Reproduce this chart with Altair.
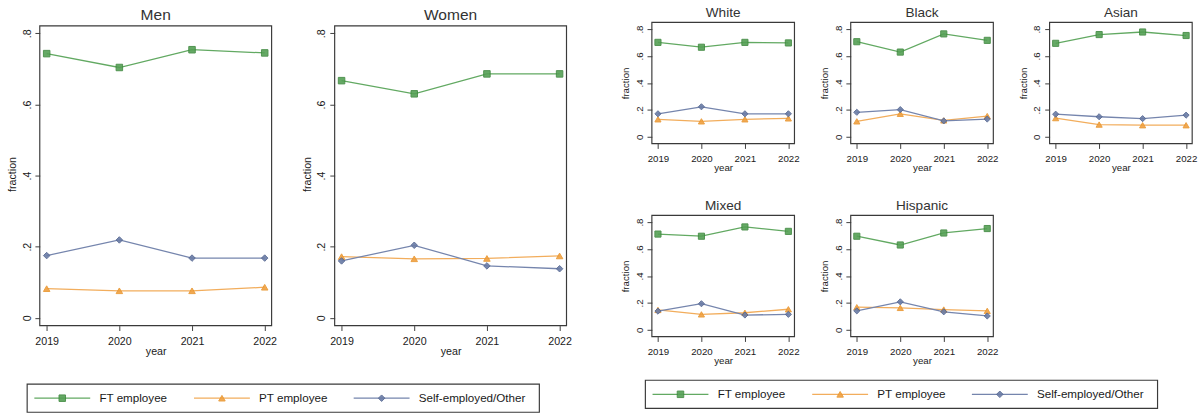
import altair as alt
import pandas as pd

# Employment status shares by year, by sex and by ethnic group
years = [2019, 2020, 2021, 2022]
statuses = ["FT employee", "PT employee", "Self-employed/Other"]

men_ft = [0.743, 0.704, 0.754, 0.745]
men_pt = [0.082, 0.076, 0.076, 0.086]
men_se = [0.175, 0.219, 0.168, 0.168]

women_ft = [0.667, 0.630, 0.686, 0.686]
women_pt = [0.172, 0.166, 0.167, 0.174]
women_se = [0.160, 0.204, 0.146, 0.138]

white_ft = [0.701, 0.665, 0.701, 0.697]
white_pt = [0.130, 0.115, 0.130, 0.137]
white_se = [0.171, 0.223, 0.171, 0.171]

black_ft = [0.706, 0.629, 0.764, 0.716]
black_pt = [0.115, 0.171, 0.122, 0.154]
black_se = [0.182, 0.202, 0.118, 0.132]

asian_ft = [0.694, 0.759, 0.778, 0.752]
asian_pt = [0.139, 0.091, 0.086, 0.086]
asian_se = [0.168, 0.149, 0.135, 0.161]

mixed_ft = [0.711, 0.695, 0.764, 0.731]
mixed_pt = [0.148, 0.115, 0.127, 0.153]
mixed_se = [0.139, 0.194, 0.110, 0.115]

hispanic_ft = [0.695, 0.630, 0.719, 0.752]
hispanic_pt = [0.168, 0.163, 0.151, 0.141]
hispanic_se = [0.141, 0.208, 0.134, 0.103]

groups = {
    "Men": (men_ft, men_pt, men_se),
    "Women": (women_ft, women_pt, women_se),
    "White": (white_ft, white_pt, white_se),
    "Black": (black_ft, black_pt, black_se),
    "Asian": (asian_ft, asian_pt, asian_se),
    "Mixed": (mixed_ft, mixed_pt, mixed_se),
    "Hispanic": (hispanic_ft, hispanic_pt, hispanic_se),
}

rows = []
for g, series in groups.items():
    for status, vals in zip(statuses, series):
        for yr, v in zip(years, vals):
            rows.append({"group": g, "status": status, "year": yr, "value": v})
df = pd.DataFrame(rows)

FONT = "Liberation Sans"
FRAME = "#3a3a3a"
line_colors = ["#62a962", "#f2ad5c", "#7585ad"]
fill_colors = ["#55a055", "#f0a040", "#6a7ca6"]
edge_colors = ["#3d873d", "#e8952c", "#54658f"]
shapes = ["square", "triangle-up", "diamond"]

color_line = alt.Color("status:N", scale=alt.Scale(domain=statuses, range=line_colors), legend=None)
color_fill = alt.Fill("status:N", scale=alt.Scale(domain=statuses, range=fill_colors), legend=None)
color_edge = alt.Stroke("status:N", scale=alt.Scale(domain=statuses, range=edge_colors), legend=None)
shape_enc = alt.Shape("status:N", scale=alt.Scale(domain=statuses, range=shapes), legend=None)

y_label_expr = "datum.value == 0 ? '0' : replace(format(datum.value, '.1f'), '0.', '.')"


def panel(name, w, h, xdom, ydom, title_size, title_offset, label_size, pt_size, headroom=0.0):
    # `headroom` leaves an empty strip of that many pixels above the framed plot
    base = alt.Chart(df).transform_filter(alt.datum.group == name)
    x = alt.X(
        "year:Q",
        scale=alt.Scale(domain=xdom, nice=False, zero=False),
        axis=alt.Axis(
            values=years, format="d", title="year", grid=False, domain=False,
            labelFontSize=label_size, titleFontSize=label_size, tickSize=5,
            labelPadding=5, titlePadding=0, labelFlush=False, labelOverlap=False,
        ),
    )
    y = alt.Y(
        "value:Q",
        scale=alt.Scale(domain=ydom, nice=False, zero=False),
        axis=alt.Axis(
            values=[0, 0.2, 0.4, 0.6, 0.8], labelExpr=y_label_expr, title="fraction",
            grid=False, domain=False, labelAngle=270, labelAlign="center",
            labelBaseline="bottom", labelFontSize=label_size, titleFontSize=label_size,
            tickSize=5, labelPadding=3, titlePadding=4, labelFlush=False,
            labelOverlap=False,
        ),
    )
    frame = alt.Chart(pd.DataFrame({"k": [0]})).mark_rect(
        fill="transparent", stroke=FRAME, strokeWidth=1.2
    ).encode(x=alt.value(0), x2=alt.value(w), y=alt.value(headroom), y2=alt.value(h))
    lines = base.mark_line(strokeWidth=1.3).encode(x=x, y=y, color=color_line)
    pts = base.mark_point(filled=True, size=pt_size, strokeWidth=1, opacity=0.9).encode(
        x=x, y=y, fill=color_fill, stroke=color_edge, shape=shape_enc
    )
    return alt.layer(frame, lines, pts).properties(
        width=w,
        height=h,
        view=alt.ViewBackground(stroke="transparent"),
        title=alt.TitleParams(
            name, fontSize=title_size, font=FONT, fontWeight="normal",
            anchor="middle", offset=title_offset, color="#333333",
        ),
    )


def legend_box(shift):
    # keys of the three series inside a framed box; `shift` moves the box
    # relative to the left edge of the plot above it
    items = pd.DataFrame({"status": statuses, "idx": list(range(len(statuses)))})
    xs = alt.Scale(domain=[0, 528], nice=False, zero=False)
    base = alt.Chart(items).transform_calculate(
        x0=f"datum.idx * 164.6 + 7.4 + ({shift})",
        x1=f"datum.idx * 164.6 + 65 + ({shift})",
        xm=f"datum.idx * 164.6 + 36.2 + ({shift})",
        xt=f"datum.idx * 164.6 + 74.5 + ({shift})",
    )
    frame = alt.Chart(pd.DataFrame({"k": [0]})).mark_rect(
        fill="white", stroke=FRAME, strokeWidth=1.2
    ).encode(x=alt.value(shift), x2=alt.value(shift + 528), y=alt.value(0), y2=alt.value(29))
    seg = base.mark_rule(strokeWidth=1.3).encode(
        x=alt.X("x0:Q", scale=xs, axis=None), x2="x1:Q", y=alt.value(14.5), color=color_line
    )
    mk = base.mark_point(filled=True, size=45, strokeWidth=1, opacity=0.9).encode(
        x=alt.X("xm:Q", scale=xs, axis=None), y=alt.value(14.5),
        fill=color_fill, stroke=color_edge, shape=shape_enc,
    )
    txt = base.mark_text(align="left", baseline="middle", fontSize=12, font=FONT, color="#1a1a1a").encode(
        x=alt.X("xt:Q", scale=xs, axis=None), y=alt.value(14.5), text="status:N"
    )
    return alt.layer(frame, seg, mk, txt).properties(
        width=528, height=29, view=alt.ViewBackground(stroke="transparent")
    )


HEAD = 3.7
big = dict(w=239, h=309 + HEAD, xdom=[2018.905, 2022.095], ydom=[-0.022, 0.821 + HEAD / 366.7],
           title_size=16, title_offset=3 - HEAD, label_size=11, pt_size=45, headroom=HEAD)
small = dict(w=147, h=125, xdom=[2018.86, 2022.14], ydom=[-0.05, 0.85],
             title_size=14, title_offset=2, label_size=10, pt_size=40)

left = alt.vconcat(
    alt.hconcat(panel("Men", **big), panel("Women", **big), spacing=24),
    legend_box(-13),
    spacing=25,
)

right = alt.vconcat(
    alt.vconcat(
        alt.hconcat(panel("White", **small), panel("Black", **small), panel("Asian", **small), spacing=19),
        alt.hconcat(panel("Mixed", **small), panel("Hispanic", **small), spacing=19),
        spacing=25,
    ),
    legend_box(-6.7),
    spacing=12,
)

chart = (
    alt.hconcat(left, right, spacing=49)
    .properties(padding={"left": 6, "top": -1.5, "right": 0, "bottom": 0}, background="white")
    .configure_title(font=FONT, fontWeight="normal")
    .configure_axis(
        labelFont=FONT, titleFont=FONT, labelColor="#1a1a1a", titleColor="#1a1a1a",
        tickColor=FRAME, titleFontWeight="normal",
    )
)

chart.save("out.html", embed_options={"renderer": "svg", "actions": False})
